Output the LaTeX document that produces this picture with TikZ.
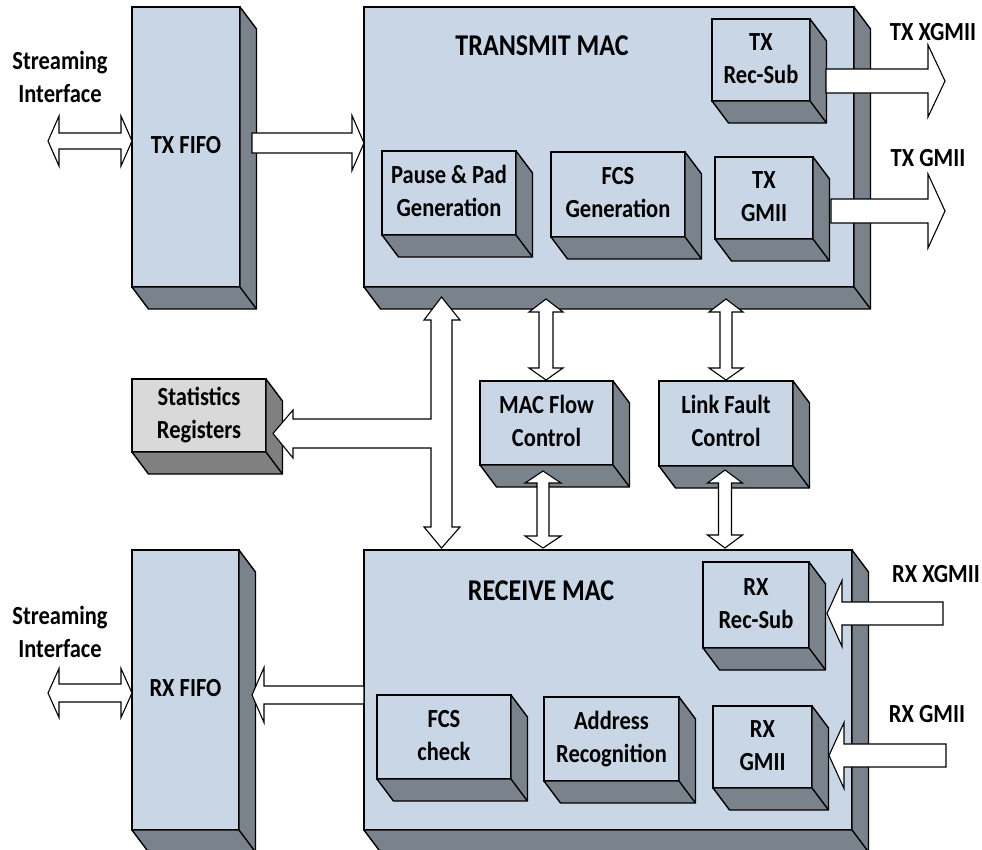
\documentclass[tikz,border=0pt]{standalone}
\usepackage{fontspec}
\setmainfont{Carlito}
\usetikzlibrary{calc}
\definecolor{boxblue}{HTML}{C8D6E5}
\definecolor{boxside}{HTML}{7A828C}
\definecolor{statfront}{HTML}{D9D9D9}
\definecolor{statside}{HTML}{808080}
\newcommand\tx[1]{\scalebox{1}[1.16]{\begin{tabular}{@{}c@{}}#1\end{tabular}}}
\tikzset{
  frontface/.style={draw=black, line width=1.4pt, fill=boxblue, inner sep=0pt, outer sep=0pt, anchor=north west,
    font=\fontsize{22.5}{28.4}\selectfont\bfseries},
  sideface/.style={draw=black, line width=1.4pt, line join=round},
  blockarrow/.style={draw=black, fill=white, line width=1.1pt, line join=miter},
  lbl/.style={inner sep=0pt, font=\fontsize{22.5}{28.4}\selectfont\bfseries},
  title/.style={inner sep=0pt, font=\fontsize{26}{31}\selectfont\bfseries},
}
% #1 name, #2 x1, #3 y1, #4 x2, #5 y2, #6 front colour, #7 side colour, #8 text
\newcommand\cubebox[8]{%
  \node[frontface, fill=#6, minimum width={#4-#2}, minimum height={#5-#3}] (#1) at (#2,#3) {\tx{#8}};
  \filldraw[sideface, fill=#7] (#1.north east) -- ++(16.5,22) -- ($(#1.south east)+(16.5,22)$)
     -- ($(#1.south west)+(16.5,22)$) -- (#1.south west) -- (#1.south east) -- cycle;
  \draw[sideface] (#1.south east) -- ++(16.5,22);
}
% horizontal single arrow: #1 tail x, #2 head base x, #3 tip x, #4 centre y, #5 shaft half, #6 head half
\newcommand\harrow[6]{%
  \draw[blockarrow] (#1,#4-#5) -- (#2,#4-#5) -- (#2,#4-#6) -- (#3,#4) -- (#2,#4+#6) -- (#2,#4+#5) -- (#1,#4+#5) -- cycle;}
% horizontal double arrow: #1 left tip, #2 left base, #3 right base, #4 right tip, #5 y, #6 shaft half, #7 head half
\newcommand\hdarrow[7]{%
  \draw[blockarrow] (#1,#5) -- (#2,#5-#7) -- (#2,#5-#6) -- (#3,#5-#6) -- (#3,#5-#7) -- (#4,#5)
    -- (#3,#5+#7) -- (#3,#5+#6) -- (#2,#5+#6) -- (#2,#5+#7) -- cycle;}
% vertical double arrow: #1 x, #2 top tip, #3 top base, #4 bottom base, #5 bottom tip, #6 shaft half, #7 head half
\newcommand\vdarrow[7]{%
  \draw[blockarrow] (#1,#2) -- (#1+#7,#3) -- (#1+#6,#3) -- (#1+#6,#4) -- (#1+#7,#4) -- (#1,#5)
    -- (#1-#7,#4) -- (#1-#6,#4) -- (#1-#6,#3) -- (#1-#7,#3) -- cycle;}
\begin{document}
\begin{tikzpicture}[x=1pt, y=-1pt]
\useasboundingbox (0,0) rectangle (982,849);
\fill[white] (0,0) rectangle (982,849);

% ---------- transmit side ----------
\cubebox{txfifo}{132}{7}{240}{287}{boxblue}{boxside}{TX FIFO}
\cubebox{txmac}{364}{7}{854}{287}{boxblue}{boxside}{}
\node[title] (txtitle) at (542,48) {\tx{TRANSMIT MAC}};
\cubebox{txrec}{712}{19}{810}{101}{boxblue}{boxside}{TX\\Rec-Sub}
\cubebox{pause}{382}{151}{516}{235}{boxblue}{boxside}{Pause \& Pad\\Generation}
\cubebox{fcsgen}{551}{152}{685}{237}{boxblue}{boxside}{FCS\\Generation}
\cubebox{txgmii}{715}{157}{813}{239}{boxblue}{boxside}{TX\\GMII}

% ---------- middle ----------
\cubebox{stats}{132}{379}{266}{452}{statfront}{statside}{Statistics\\Registers}
\cubebox{flow}{480}{381}{613}{465}{boxblue}{boxside}{MAC Flow\\Control}
\cubebox{fault}{659}{381}{793}{466}{boxblue}{boxside}{Link Fault\\Control}

% ---------- receive side ----------
\cubebox{rxfifo}{132}{550}{239}{830}{boxblue}{boxside}{RX FIFO}
\cubebox{rxmac}{364}{550}{852}{830}{boxblue}{boxside}{}
\node[title] (rxtitle) at (541,593) {\tx{RECEIVE MAC}};
\cubebox{rxrec}{703}{562}{809}{648}{boxblue}{boxside}{RX\\Rec-Sub}
\cubebox{fcschk}{377}{695}{511}{779}{boxblue}{boxside}{FCS\\check}
\cubebox{addr}{544}{697}{679}{781}{boxblue}{boxside}{Address\\Recognition}
\cubebox{rxgmii}{713}{706}{812}{788}{boxblue}{boxside}{RX\\GMII}

% ---------- arrows ----------
\hdarrow{48}{59}{121}{132}{141}{8}{25}
\hdarrow{48}{59}{121}{132}{693}{9}{24.5}
\harrow{252}{352}{364}{143}{10}{27.5}
\harrow{364}{264}{252}{695}{9}{27.5}
\harrow{826}{928}{945}{81}{12}{36}
\harrow{831}{928}{945}{211}{12}{37}
\harrow{943}{842}{827}{613.5}{11.5}{33}
\harrow{946}{844}{829}{755.5}{11.5}{33}
\vdarrow{546}{299}{312}{368}{380}{7}{17}
\vdarrow{543}{471}{483}{536}{548}{6}{18}
\vdarrow{726}{299}{312}{368}{380}{6}{17}
\vdarrow{725}{470}{483}{535}{548}{6.5}{17.5}
% composite bus arrow to statistics
\draw[blockarrow] (441.5,297) -- (460,320) -- (452,320) -- (452,527) -- (460,527) -- (441.5,548)
  -- (424,527) -- (431,527) -- (431,448) -- (293,448) -- (293,458) -- (273,433.5) -- (293,410)
  -- (293,419) -- (431,419) -- (431,320) -- (424,320) -- cycle;

% ---------- labels ----------
\node[lbl] (sitx) at (60,79) {\tx{Streaming\\Interface}};
\node[lbl] (sirx) at (60,634) {\tx{Streaming\\Interface}};
\node[lbl] (ltxx) at (933,34) {\tx{TX XGMII}};
\node[lbl] (ltxg) at (928,160) {\tx{TX GMII}};
\node[lbl] (lrxx) at (936,576) {\tx{RX XGMII}};
\node[lbl] (lrxg) at (927,716) {\tx{RX GMII}};
\end{tikzpicture}
\end{document}
